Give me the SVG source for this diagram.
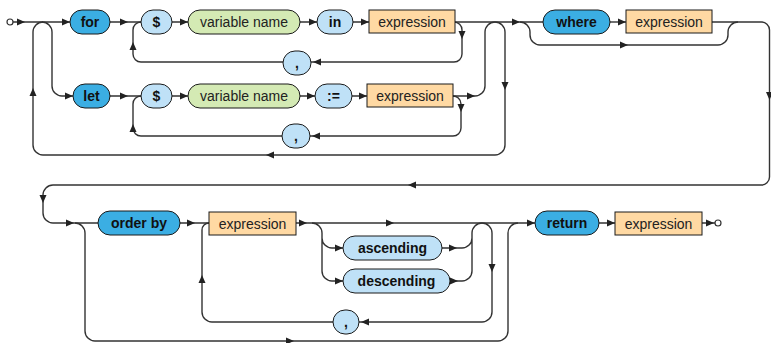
<svg xmlns="http://www.w3.org/2000/svg" xmlns:xlink="http://www.w3.org/1999/xlink" width="771" height="343" viewBox="0 0 771 343">
<style>
.ln{fill:none;stroke:#333;stroke-width:1.4}
.ah{fill:#222}
.kw{fill:#3BAEE3;stroke:#1a1a1a;stroke-width:1}
.tm{fill:#BFE1F7;stroke:#1a1a1a;stroke-width:1}
.vn{fill:#D4EAB4;stroke:#1a1a1a;stroke-width:1}
.ex{fill:#FFD9A3;stroke:#1a1a1a;stroke-width:1}
.b{font-family:"Liberation Sans",Arial,sans-serif;font-size:14px;font-weight:bold;fill:#111;text-anchor:middle}
.r{font-family:"Liberation Sans",Arial,sans-serif;font-size:14px;fill:#222;text-anchor:middle}
.dot{fill:#fff;stroke:#333;stroke-width:1.2}
</style>
<defs>
<path id="a" class="ah" d="M0,0 L-8,-3.5 L-8,3.5 Z"/>
</defs>
<g id="connectors">
<circle class="dot" cx="10" cy="22" r="3"/>
<path class="ln" d="M13,22 H70"/>
<path class="ln" d="M42,22 A10,10 0 0 1 52,32 V86 A10,10 0 0 0 62,96 H73"/>
<path class="ln" d="M110,22 H141 M172,22 H188 M300,22 H317 M353,22 H369"/>
<path class="ln" d="M454,22 A8,8 0 0 1 462,30 V54 A8,8 0 0 1 454,62 H311 M283,62 H141 A8,8 0 0 1 133,54 V30 A8,8 0 0 1 141,22"/>
<path class="ln" d="M110,96 H141 M172,96 H188 M300,96 H315 M352,96 H367"/>
<path class="ln" d="M452,96 A8,8 0 0 1 461,104 V128 A8,8 0 0 1 453,136 H310 M282,136 H141 A8,8 0 0 1 133,128 V104 A8,8 0 0 1 141,96"/>
<path class="ln" d="M453,96 H475 A10,10 0 0 0 485,86 V32 A10,10 0 0 1 495,22"/>
<path class="ln" d="M455,22 H543"/>
<path class="ln" d="M495,22 A10,10 0 0 1 505,32 V145 A10,10 0 0 1 495,155 H43 A10,10 0 0 1 33,145 V32 A10,10 0 0 1 43,22"/>
<path class="ln" d="M520,22 A10,10 0 0 1 530,32 V35 A10,10 0 0 0 540,45 H718 A10,10 0 0 0 728,35 V32 A10,10 0 0 1 738,22"/>
<path class="ln" d="M610,22 H626"/>
<path class="ln" d="M712,22 H761 A8,8 0 0 1 769.5,30 V177 A8,8 0 0 1 761,185 H53 A10,10 0 0 0 43,195 V213 A10,10 0 0 0 53,223 H98"/>
<path class="ln" d="M75,223 A10,10 0 0 1 85,233 V331 A10,10 0 0 0 95,341 H498 A10,10 0 0 0 508,331 V233 A10,10 0 0 1 518,223"/>
<path class="ln" d="M180,223 H209 M296,223 H535"/>
<path class="ln" d="M482,223 A10,10 0 0 1 492,233 V312 A10,10 0 0 1 482,322 H359 M333,322 H212 A10,10 0 0 1 202,312 V230 A7,7 0 0 1 209,223"/>
<path class="ln" d="M312,223 A10,10 0 0 1 322,233 V271 A10,10 0 0 0 332,281 H343 M322,238 A10,10 0 0 0 332,248 H343"/>
<path class="ln" d="M442,248 H462 A10,10 0 0 0 472,238 V233 A10,10 0 0 1 482,223 M450,281 H462 A10,10 0 0 0 472,271 V238"/>
<path class="ln" d="M599,223 H615 M702,223 H715"/>
<circle class="dot" cx="718" cy="223" r="3"/>
<use xlink:href="#a" transform="translate(25,22)"/>
<use xlink:href="#a" transform="translate(70,22)"/>
<use xlink:href="#a" transform="translate(128,22)"/>
<use xlink:href="#a" transform="translate(188,22)"/>
<use xlink:href="#a" transform="translate(317,22)"/>
<use xlink:href="#a" transform="translate(369,22)"/>
<use xlink:href="#a" transform="translate(462,39) rotate(90)"/>
<use xlink:href="#a" transform="translate(313,62) rotate(180)"/>
<use xlink:href="#a" transform="translate(133,42) rotate(-90)"/>
<use xlink:href="#a" transform="translate(73,96)"/>
<use xlink:href="#a" transform="translate(128,96)"/>
<use xlink:href="#a" transform="translate(188,96)"/>
<use xlink:href="#a" transform="translate(315,96)"/>
<use xlink:href="#a" transform="translate(367,96)"/>
<use xlink:href="#a" transform="translate(461,112) rotate(90)"/>
<use xlink:href="#a" transform="translate(312,136) rotate(180)"/>
<use xlink:href="#a" transform="translate(133,124) rotate(-90)"/>
<use xlink:href="#a" transform="translate(475,96)"/>
<use xlink:href="#a" transform="translate(505,90) rotate(90)"/>
<use xlink:href="#a" transform="translate(266,155) rotate(180)"/>
<use xlink:href="#a" transform="translate(33,88) rotate(-90)"/>
<use xlink:href="#a" transform="translate(520,22)"/>
<use xlink:href="#a" transform="translate(626,22)"/>
<use xlink:href="#a" transform="translate(628,45)"/>
<use xlink:href="#a" transform="translate(769.5,100) rotate(90)"/>
<use xlink:href="#a" transform="translate(408,185) rotate(180)"/>
<use xlink:href="#a" transform="translate(43,203) rotate(90)"/>
<use xlink:href="#a" transform="translate(74,223)"/>
<use xlink:href="#a" transform="translate(195,223)"/>
<use xlink:href="#a" transform="translate(307,223)"/>
<use xlink:href="#a" transform="translate(394,223)"/>
<use xlink:href="#a" transform="translate(343,248)"/>
<use xlink:href="#a" transform="translate(343,281)"/>
<use xlink:href="#a" transform="translate(457,248)"/>
<use xlink:href="#a" transform="translate(458,281)"/>
<use xlink:href="#a" transform="translate(492,272) rotate(90)"/>
<use xlink:href="#a" transform="translate(361,322) rotate(180)"/>
<use xlink:href="#a" transform="translate(202,275) rotate(-90)"/>
<use xlink:href="#a" transform="translate(294,341)"/>
<use xlink:href="#a" transform="translate(535,223)"/>
<use xlink:href="#a" transform="translate(615,223)"/>
<use xlink:href="#a" transform="translate(714,223)"/>
</g>
<g id="n-for"><rect class="kw" x="70" y="10" width="40" height="24" rx="12"/><text class="b" x="90" y="27">for</text></g>
<g id="n-dollar1"><rect class="tm" x="141" y="10" width="31" height="24" rx="12"/><text class="b" x="156.5" y="27">$</text></g>
<g id="n-var1"><rect class="vn" x="188" y="10" width="112" height="24" rx="12"/><text class="r" x="244" y="27">variable name</text></g>
<g id="n-in"><rect class="tm" x="317" y="10" width="36" height="24" rx="12"/><text class="b" x="335" y="27">in</text></g>
<g id="n-expr1"><rect class="ex" x="369" y="10" width="86" height="23"/><text class="r" x="412" y="26.5">expression</text></g>
<g id="n-comma1"><rect class="tm" x="283" y="51" width="28" height="24" rx="12"/><text class="b" x="297" y="68">,</text></g>
<g id="n-let"><rect class="kw" x="73" y="84" width="37" height="24" rx="12"/><text class="b" x="91.5" y="101">let</text></g>
<g id="n-dollar2"><rect class="tm" x="141" y="84" width="31" height="24" rx="12"/><text class="b" x="156.5" y="101">$</text></g>
<g id="n-var2"><rect class="vn" x="188" y="84" width="112" height="24" rx="12"/><text class="r" x="244" y="101">variable name</text></g>
<g id="n-assign"><rect class="tm" x="315" y="84" width="37" height="24" rx="12"/><text class="b" x="333.5" y="101">:=</text></g>
<g id="n-expr2"><rect class="ex" x="367" y="84" width="86" height="23"/><text class="r" x="410" y="100.5">expression</text></g>
<g id="n-comma2"><rect class="tm" x="282" y="124" width="28" height="24" rx="12"/><text class="b" x="296" y="141">,</text></g>
<g id="n-where"><rect class="kw" x="543" y="10" width="67" height="24" rx="12"/><text class="b" x="576.5" y="27">where</text></g>
<g id="n-expr3"><rect class="ex" x="626" y="10" width="86" height="23"/><text class="r" x="669" y="26.5">expression</text></g>
<g id="n-orderby"><rect class="kw" x="98" y="211" width="82" height="24" rx="12"/><text class="b" x="139" y="228">order by</text></g>
<g id="n-expr4"><rect class="ex" x="209" y="212" width="87" height="23"/><text class="r" x="252.5" y="228.5">expression</text></g>
<g id="n-asc"><rect class="tm" x="343" y="236" width="99" height="24" rx="12"/><text class="b" x="392.5" y="253">ascending</text></g>
<g id="n-desc"><rect class="tm" x="343" y="269" width="107" height="24" rx="12"/><text class="b" x="396.5" y="286">descending</text></g>
<g id="n-comma3"><rect class="tm" x="333" y="310" width="26" height="24" rx="12"/><text class="b" x="346" y="327">,</text></g>
<g id="n-return"><rect class="kw" x="535" y="211" width="64" height="24" rx="12"/><text class="b" x="567" y="228">return</text></g>
<g id="n-expr5"><rect class="ex" x="615" y="212" width="87" height="23"/><text class="r" x="658.5" y="228.5">expression</text></g>
</svg>
